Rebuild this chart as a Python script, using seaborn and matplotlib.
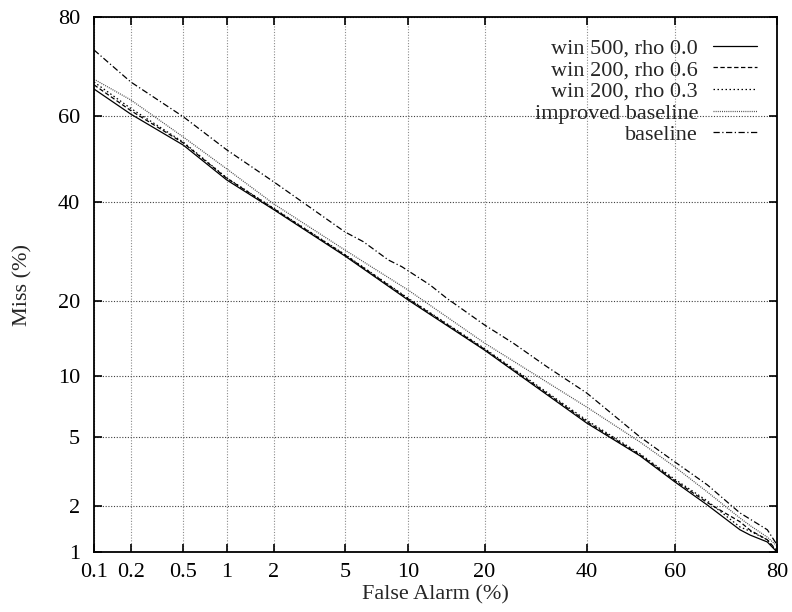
import numpy as np
import pandas as pd
import matplotlib
matplotlib.use("Agg")
import matplotlib.pyplot as plt
import seaborn as sns
from statistics import NormalDist

# False-alarm operating points (%) for the windowed systems and the improved baseline
fa_systems = [0.1, 0.2, 0.5, 1, 2, 5, 10, 20, 40, 52.1, 60, 67, 73.5, 75.4, 78.4, 80]
# False-alarm operating points (%) for the original baseline
fa_baseline = [0.1, 0.2, 0.5, 1, 2, 5, 6.18, 8.14, 9.37, 12.39, 14.47, 16.75, 20,
               24.96, 31.43, 40, 52.1, 60, 67, 73.5, 78.4, 80]

# Miss rates (%) for each system
miss_win500_rho00 = [66.1, 60.5, 53.3, 45.1, 38.2, 28.3, 20.2, 12.9, 5.9, 3.95,
                     2.80, 2.03, 1.41, 1.30, 1.17, 1.0]
miss_win200_rho06 = [67.0, 61.3, 53.8, 45.5, 38.4, 28.5, 20.4, 13.0, 6.0, 4.00,
                     2.85, 2.10, 1.59, 1.40, 1.21, 1.02]
miss_win200_rho03 = [67.6, 61.8, 54.0, 45.6, 38.5, 28.6, 20.5, 13.1, 6.1, 4.05,
                     2.90, 2.15, 1.47, 1.38, 1.21, 1.0]
miss_improved = [68.2, 63.7, 55.2, 47.7, 39.5, 29.5, 21.9, 13.8, 7.1, 4.70,
                 3.42, 2.44, 1.68, 1.50, 1.26, 1.10]
miss_baseline = [74.1, 67.6, 59.9, 52.2, 44.6, 33.3, 31.25, 27.52, 26.21, 22.81,
                 20.50, 18.59, 16.3, 13.78, 10.96, 8.3, 5.0, 3.65, 2.69, 1.81,
                 1.41, 1.12]

series_names = [
    "win 500, rho 0.0",
    "win 200, rho 0.6",
    "win 200, rho 0.3",
    "improved baseline",
    "baseline",
]
series_fa = [fa_systems, fa_systems, fa_systems, fa_systems, fa_baseline]
series_miss = [miss_win500_rho00, miss_win200_rho06, miss_win200_rho03,
               miss_improved, miss_baseline]

x_ticks = [0.1, 0.2, 0.5, 1, 2, 5, 10, 20, 40, 60, 80]
x_tick_labels = ["0.1", "0.2", "0.5", "1", "2", "5", "10", "20", "40", "60", "80"]
y_ticks = [1, 2, 5, 10, 20, 40, 60, 80]
y_tick_labels = ["1", "2", "5", "10", "20", "40", "60", "80"]

df = pd.DataFrame(
    [(fa, m, name)
     for name, fas, vals in zip(series_names, series_fa, series_miss)
     for fa, m in zip(fas, vals)],
    columns=["fa", "miss", "system"],
)

sns.set_theme(style="white")
plt.rcParams["font.family"] = ["Liberation Serif", "DejaVu Serif"]

# Normal-deviate (probit) axis mapping used by DET plots
_nd = NormalDist()


def _probit(p):
    a = np.clip(np.asarray(p, dtype=float) / 100.0, 1e-9, 1 - 1e-9)
    return np.vectorize(_nd.inv_cdf, otypes=[float])(a)


def _inv_probit(z):
    z = np.asarray(z, dtype=float)
    return 100.0 * np.vectorize(_nd.cdf, otypes=[float])(z)


fig = plt.figure(figsize=(7.92, 6.12), dpi=100)
ax = fig.add_axes([94 / 792, 1 - 552 / 612, (777 - 94) / 792, (552 - 17) / 612])

dash_map = {
    "win 500, rho 0.0": "",
    "win 200, rho 0.6": (3.5, 2),
    "win 200, rho 0.3": (1.2, 2),
    "improved baseline": (0.8, 0.9),
    "baseline": (5, 2, 1, 2),
}
palette = {
    "win 500, rho 0.0": "black",
    "win 200, rho 0.6": "black",
    "win 200, rho 0.3": "black",
    "improved baseline": "0.3",
    "baseline": "black",
}

sns.lineplot(data=df, x="fa", y="miss", hue="system", style="system",
             hue_order=series_names, style_order=series_names,
             palette=palette, dashes=dash_map, estimator=None, sort=True,
             linewidth=0.9, ax=ax)

ax.set_xscale("function", functions=(_probit, _inv_probit))
ax.set_yscale("function", functions=(_probit, _inv_probit))
ax.set_xlim(0.1, 80)
ax.set_ylim(1, 80)
ax.set_xticks(x_ticks)
ax.set_xticklabels(x_tick_labels)
ax.set_yticks(y_ticks)
ax.set_yticklabels(y_tick_labels)
ax.minorticks_off()

ax.xaxis.grid(True, color="0.55", linestyle=(0, (1, 1.5)), linewidth=0.8)
ax.yaxis.grid(True, color="0.25", linestyle=(0, (1, 1.5)), linewidth=0.8)
ax.set_axisbelow(True)

for sp in ax.spines.values():
    sp.set_visible(True)
    sp.set_color("black")
    sp.set_linewidth(1.3)

ax.tick_params(axis="both", which="major", direction="in", length=6, width=1.2,
               top=True, right=True, bottom=True, left=True, colors="black",
               labelsize=16)
ax.tick_params(axis="x", pad=8)
ax.tick_params(axis="y", pad=10)

ax.set_xlabel("False Alarm (%)", fontsize=16, labelpad=2)
ax.set_ylabel("Miss (%)", fontsize=16, labelpad=18)

handles, labels = ax.get_legend_handles_labels()
ax.legend(handles, labels, loc="upper right",
          bbox_to_anchor=(757 / 792, 1 - 38 / 612), bbox_transform=fig.transFigure,
          frameon=False, markerfirst=False, handlelength=2.0,
          handletextpad=0.65, labelspacing=0.05, borderpad=0,
          borderaxespad=0, fontsize=16)

fig.savefig("out.png", dpi=100)
